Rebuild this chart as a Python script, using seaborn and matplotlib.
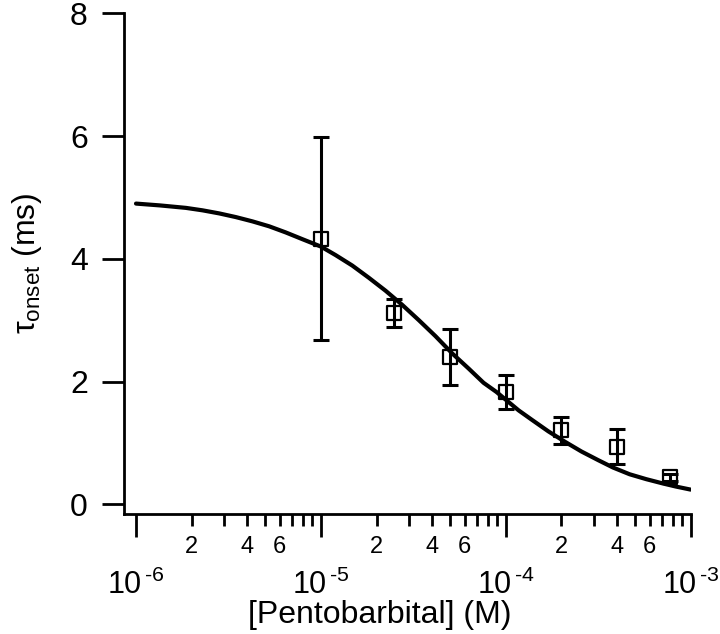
import numpy as np
import matplotlib
matplotlib.use("Agg")
import matplotlib.pyplot as plt
import matplotlib.ticker as mticker
import seaborn as sns

# measured points: [pentobarbital] (M), tau_onset (ms), error (ms)
conc = [1e-5, 2.5e-5, 5e-5, 1e-4, 2e-4, 4e-4, 7.7e-4]
tau = [4.33, 3.12, 2.40, 1.83, 1.21, 0.94, 0.44]
tau_err = [1.65, 0.23, 0.46, 0.28, 0.22, 0.28, 0.06]

# fitted curve (log10 of concentration, tau)
curve_logx = [-6.00, -5.87, -5.73, -5.64, -5.55, -5.46, -5.37, -5.28, -5.19,
              -5.10, -5.00, -4.92, -4.83, -4.74, -4.65, -4.56, -4.47, -4.38,
              -4.29, -4.20, -4.12, -4.05, -3.99, -3.93, -3.86, -3.77, -3.68,
              -3.59, -3.50, -3.42, -3.33, -3.24, -3.15, -3.08, -3.00]
curve_tau = [4.90, 4.87, 4.83, 4.79, 4.74, 4.68, 4.61, 4.53, 4.43,
             4.32, 4.20, 4.06, 3.89, 3.69, 3.48, 3.25, 3.00, 2.74,
             2.46, 2.21, 1.98, 1.83, 1.68, 1.53, 1.38, 1.19, 1.02,
             0.86, 0.72, 0.60, 0.49, 0.41, 0.34, 0.29, 0.24]

sns.set_theme(style="ticks")
plt.rcParams['font.family'] = ['Liberation Sans', 'DejaVu Sans']
plt.rcParams['mathtext.fontset'] = 'custom'
plt.rcParams['mathtext.rm'] = 'Liberation Sans'
plt.rcParams['mathtext.it'] = 'Liberation Sans:italic'

fig = plt.figure(figsize=(7.2, 6.34), dpi=100)
ax = fig.add_axes([0.1722, 0.190, 0.787, 0.789])
ax.set_xscale('log')

curve_x = [10 ** v for v in curve_logx]
sns.lineplot(x=curve_x, y=curve_tau, ax=ax, color='black', linewidth=3, sort=False)
ax.errorbar(conc, tau, yerr=tau_err, fmt='none', ecolor='black',
            elinewidth=2.2, capsize=5.5, capthick=2.2, zorder=3)
sns.scatterplot(x=conc, y=tau, ax=ax, marker='s', s=100, facecolors='none',
                edgecolor='black', linewidth=1.6, zorder=4)

ax.set_xlim(10 ** -6.065, 1e-3)
ax.set_ylim(-0.15, 8)
ax.set_yticks([0, 2, 4, 6, 8])

ax.xaxis.set_major_locator(mticker.FixedLocator([1e-6, 1e-5, 1e-4, 1e-3]))
minor_pos = [m * 10.0 ** e for e in (-6, -5, -4) for m in range(2, 10)]
ax.xaxis.set_minor_locator(mticker.FixedLocator(minor_pos))
ax.xaxis.set_major_formatter(mticker.FuncFormatter(
    lambda v, p: '$\\mathregular{10^{\\,\u2010%d}}$' % abs(round(np.log10(v)))))


def minor_fmt(v, p):
    m = v / 10 ** np.floor(np.log10(v) + 1e-9)
    d = int(round(m))
    return str(d) if d in (2, 4, 6) else ''


ax.xaxis.set_minor_formatter(mticker.FuncFormatter(minor_fmt))

for s in ['top', 'right']:
    ax.spines[s].set_visible(False)
for s in ['left', 'bottom']:
    ax.spines[s].set_linewidth(2)
    ax.spines[s].set_color('black')

ax.tick_params(axis='y', which='major', direction='out', length=16, width=2,
               pad=10, labelsize=23, color='black', labelcolor='black')
ax.tick_params(axis='x', which='major', direction='out', length=16.5, width=2,
               pad=24, labelsize=22, color='black', labelcolor='black')
ax.tick_params(axis='x', which='minor', direction='out', length=8.5, width=2,
               pad=8, labelsize=17, color='black', labelcolor='black')

ax.set_xlabel('[Pentobarbital] (M)', fontsize=23, color='black')
ax.xaxis.set_label_coords(0.452, -0.172)
ax.set_ylabel(r'$\mathregular{\tau_{onset}}$ (ms)', fontsize=23, color='black', labelpad=19)
ax.grid(False)

fig.savefig("out.png", dpi=100)
